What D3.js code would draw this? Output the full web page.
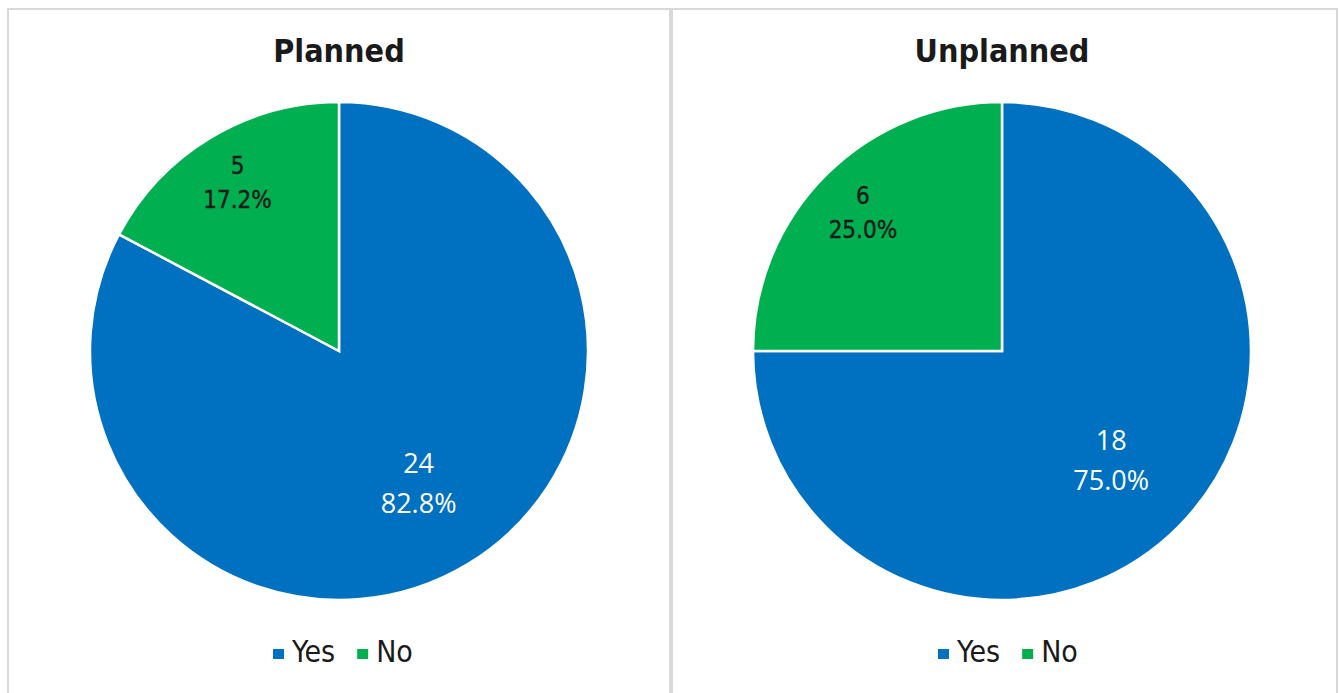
<!DOCTYPE html>
<html>
<head>
<meta charset="utf-8">
<script src="https://cdn.jsdelivr.net/npm/d3@7"></script>
<style>
  html, body { margin: 0; padding: 0; background: #ffffff; }
  svg { display: block; }
</style>
</head>
<body>
<svg id="chart" width="1339" height="693"></svg>
<script>
// Survey answers split by visit type
const categories = ["Yes", "No"];
const chartTitles = ["Planned", "Unplanned"];
const plannedValues = [24, 5];
const unplannedValues = [18, 6];
const percentLabels = [["82.8%", "17.2%"], ["75.0%", "25.0%"]];

const colors = d3.scaleOrdinal().domain(categories).range(["#0070C0", "#00B050"]);

const svg = d3.select("#chart");

const panels = [
  { title: chartTitles[0], values: plannedValues, pct: percentLabels[0], x0: 8, x1: 670, cx: 339, legendX: 273 },
  { title: chartTitles[1], values: unplannedValues, pct: percentLabels[1], x0: 672, x1: 1337, cx: 1002, legendX: 938 }
];

const cy = 351;
const radius = 249;

const pie = d3.pie().sort(null).value(d => d.value);
const arc = d3.arc().innerRadius(0).outerRadius(radius);
// value labels sit deeper inside the large slice than inside the small one
const labelRadius = { Yes: radius * 0.62, No: radius * 0.79 };

const condensed = "'DejaVu Sans Condensed', 'DejaVu Sans', sans-serif";

panels.forEach(p => {
  const g = svg.append("g");

  // panel frame
  g.append("rect")
    .attr("x", p.x0).attr("y", 9)
    .attr("width", p.x1 - p.x0).attr("height", 700)
    .attr("fill", "#ffffff")
    .attr("stroke", "#d9d9d9")
    .attr("stroke-width", 2);

  g.append("text")
    .attr("x", p.cx).attr("y", 62)
    .attr("text-anchor", "middle")
    .attr("font-family", condensed)
    .attr("font-weight", "bold")
    .attr("font-size", 32)
    .attr("fill", "#1a1a1a")
    .text(p.title);

  const data = categories.map((c, i) => ({ cat: c, value: p.values[i], pct: p.pct[i] }));
  const arcs = pie(data);

  const pieG = g.append("g").attr("transform", `translate(${p.cx},${cy})`);

  pieG.selectAll("path")
    .data(arcs)
    .join("path")
    .attr("d", arc)
    .attr("fill", d => colors(d.data.cat))
    .attr("stroke", "#ffffff")
    .attr("stroke-width", 2.5)
    .attr("stroke-linejoin", "miter");

  arcs.forEach(a => {
    const isYes = a.data.cat === "Yes";
    const la = d3.arc().innerRadius(labelRadius[a.data.cat]).outerRadius(labelRadius[a.data.cat]);
    const [lx, ly] = la.centroid(a);
    const t = pieG.append("text")
      .attr("text-anchor", "middle")
      .attr("fill", isYes ? "#ffffff" : "#1a1a1a")
      .attr("font-family", isYes ? "'Open Sans', sans-serif" : condensed)
      .attr("font-size", isYes ? 27 : 24);
    if (!isYes) t.attr("stroke", "#1a1a1a").attr("stroke-width", 0.4);
    const lh = isYes ? 40 : 34;
    const base = isYes ? 10 : 9;
    t.append("tspan").attr("x", lx).attr("y", ly - lh / 2 + base).text(a.data.value);
    t.append("tspan").attr("x", lx).attr("y", ly + lh / 2 + base).text(a.data.pct);
  });

  // legend
  const lg = g.append("g").attr("transform", `translate(${p.legendX},662)`);
  let x = 0;
  categories.forEach(c => {
    lg.append("rect")
      .attr("x", x).attr("y", -13)
      .attr("width", 11).attr("height", 10)
      .attr("fill", colors(c));
    const txt = lg.append("text")
      .attr("x", x + 19).attr("y", 0)
      .attr("font-family", condensed)
      .attr("font-size", 30)
      .attr("fill", "#1a1a1a")
      .text(c);
    x += 19 + txt.node().getComputedTextLength() + 22;
  });
});
</script>
</body>
</html>
